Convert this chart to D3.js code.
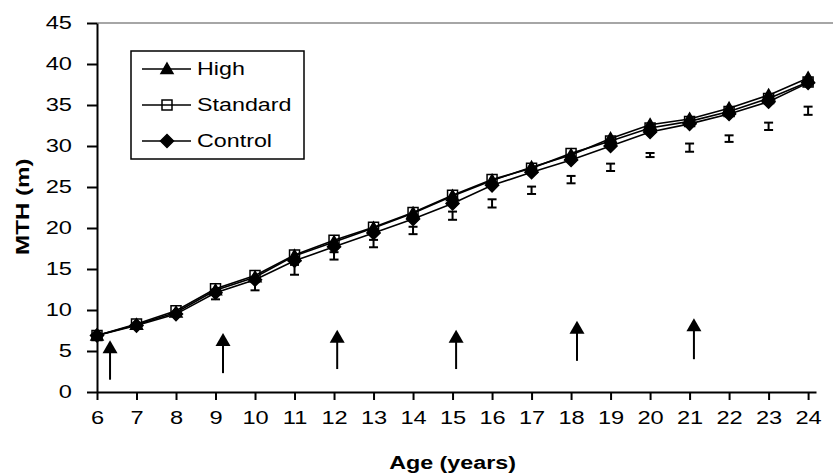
<!DOCTYPE html>
<html>
<head>
<meta charset="utf-8">
<script src="https://cdn.jsdelivr.net/npm/d3@7"></script>
<style>
  body { margin: 0; background: #fff; }
  text { font-family: Arial, "Liberation Sans", sans-serif; }
</style>
</head>
<body>
<script>
// data
var ages = [6, 7, 8, 9, 10, 11, 12, 13, 14, 15, 16, 17, 18, 19, 20, 21, 22, 23, 24];
var high     = [6.9, 8.2, 9.7, 12.4, 14.0, 16.6, 18.3, 20.0, 21.8, 23.9, 25.8, 27.4, 28.9, 30.9, 32.6, 33.3, 34.6, 36.2, 38.3];
var standard = [6.9, 8.3, 9.9, 12.6, 14.2, 16.7, 18.5, 20.1, 21.9, 24.0, 25.9, 27.3, 29.1, 30.6, 32.2, 33.0, 34.2, 35.8, 37.8];
var control  = [6.9, 8.1, 9.5, 12.1, 13.7, 16.0, 17.7, 19.4, 21.1, 23.0, 25.2, 26.8, 28.3, 30.0, 31.7, 32.7, 33.9, 35.4, 37.7];

// separate error bars (no line)
var errAges = [9, 10, 11, 12, 13, 14, 15, 16, 17, 18, 19, 20, 21, 22, 23, 24];
var errMid  = [11.9, 12.9, 14.9, 16.6, 18.1, 19.7, 21.5, 23.0, 24.6, 25.9, 27.4, 28.9, 29.8, 30.9, 32.4, 34.3];
var errHalf = [0.6, 0.5, 0.6, 0.45, 0.45, 0.45, 0.5, 0.5, 0.45, 0.45, 0.45, 0.25, 0.5, 0.4, 0.45, 0.5];

// arrows (age, bottom, tip)
var arrowAge  = [6.33, 9.19, 12.08, 15.09, 18.15, 21.11];
var arrowLow  = [1.5, 2.3, 2.8, 2.8, 3.8, 4.0];
var arrowHigh = [6.3, 7.2, 7.6, 7.6, 8.7, 9.0];

var yTicks = [0, 5, 10, 15, 20, 25, 30, 35, 40, 45];
var seriesNames = ['High', 'Standard', 'Control'];

var W = 834, H = 473;
var svg = d3.select('body').append('svg')
	.attr('width', W)
	.attr('height', H);

// the original text is wider than plain Arial, stretch it sideways
function stretch(sel, k) {
	sel.each(function() {
		var w = this.getComputedTextLength();
		d3.select(this).attr('textLength', w * k).attr('lengthAdjust', 'spacingAndGlyphs');
	});
}

var x = d3.scaleLinear().domain([6, 24.2]).range([97, 816]);
var y = d3.scaleLinear().domain([0, 45]).range([392, 23]);

// top border of plot area
svg.append('line')
	.attr('x1', x(6)).attr('x2', 833)
	.attr('y1', y(45)).attr('y2', y(45))
	.attr('stroke', '#888').attr('stroke-width', 1.5);

// axes
var xAxis = svg.append('g')
	.attr('transform', 'translate(0,' + y(0) + ')')
	.call(d3.axisBottom(x).tickValues(ages).tickFormat(d3.format('d')).tickSize(8).tickSizeOuter(0).tickPadding(12));
var yAxis = svg.append('g')
	.attr('transform', 'translate(' + x(6) + ',0)')
	.call(d3.axisLeft(y).tickValues(yTicks).tickSize(10).tickSizeOuter(0).tickPadding(15));

[xAxis, yAxis].forEach(function(a) {
	a.selectAll('path, line').attr('stroke', '#000').attr('stroke-width', 2);
	a.selectAll('text').attr('font-size', 17.5).attr('fill', '#000')
		.style('font-family', 'Arial, "Liberation Sans", sans-serif')
		.call(stretch, 1.35);
});

// axis titles
svg.append('text').text('Age (years)')
	.attr('x', (x(6) + x(24)) / 2).attr('y', 469)
	.attr('text-anchor', 'middle')
	.attr('font-size', 17.5).attr('font-weight', 'bold')
	.call(stretch, 1.33);
svg.append('text').text('MTH (m)')
	.attr('transform', 'translate(29,' + y(22.6) + ') rotate(-90)')
	.attr('text-anchor', 'middle')
	.attr('font-size', 17.5).attr('font-weight', 'bold')
	.call(stretch, 1.38);

// marker shapes
var markers = {
	High: { d: 'M0,-6L6,4.5L-6,4.5Z', fill: '#000' },
	Standard: { d: 'M-5,-5H5V5H-5Z', fill: 'none' },
	Control: { d: 'M0,-6.5L6.5,0L0,6.5L-6.5,0Z', fill: '#000' }
};

var line = d3.line()
	.x(function(d) { return x(d.age); })
	.y(function(d) { return y(d.v); });

// error bars
var err = errAges.map(function(a, i) { return { age: a, mid: errMid[i], h: errHalf[i] }; });
var eg = svg.append('g').attr('stroke', '#000').attr('stroke-width', 2);
err.forEach(function(d) {
	var cx = x(d.age);
	eg.append('line').attr('x1', cx).attr('x2', cx).attr('y1', y(d.mid - d.h)).attr('y2', y(d.mid + d.h));
	eg.append('line').attr('x1', cx - 4.5).attr('x2', cx + 4.5).attr('y1', y(d.mid - d.h)).attr('y2', y(d.mid - d.h));
	eg.append('line').attr('x1', cx - 4.5).attr('x2', cx + 4.5).attr('y1', y(d.mid + d.h)).attr('y2', y(d.mid + d.h));
});

// series
[high, standard, control].forEach(function(vals, si) {
	var name = seriesNames[si];
	var pts = ages.map(function(a, i) { return { age: a, v: vals[i] }; });
	svg.append('path').datum(pts)
		.attr('d', line)
		.attr('fill', 'none')
		.attr('stroke', '#000')
		.attr('stroke-width', 1.6);
	svg.selectAll('.m' + si).data(pts)
		.enter().append('path')
			.attr('class', 'm' + si)
			.attr('transform', function(d) { return 'translate(' + x(d.age) + ',' + y(d.v) + ')'; })
			.attr('d', markers[name].d)
			.attr('fill', markers[name].fill)
			.attr('stroke', '#000')
			.attr('stroke-width', 1.5);
});

// arrows
arrowAge.forEach(function(a, i) {
	var ax = x(a), yb = y(arrowLow[i]), yt = y(arrowHigh[i]);
	svg.append('line')
		.attr('x1', ax).attr('x2', ax)
		.attr('y1', yb).attr('y2', yt + 10)
		.attr('stroke', '#000').attr('stroke-width', 2);
	svg.append('path')
		.attr('d', 'M' + ax + ',' + yt + 'L' + (ax + 7.5) + ',' + (yt + 13) + 'L' + (ax - 7.5) + ',' + (yt + 13) + 'Z')
		.attr('fill', '#000');
});

// legend
var lg = svg.append('g');
lg.append('rect')
	.attr('x', 131).attr('y', 51).attr('width', 173).attr('height', 108)
	.attr('fill', '#fff').attr('stroke', '#000').attr('stroke-width', 1.5);
seriesNames.forEach(function(name, i) {
	var ly = 69 + i * 36;
	lg.append('line').attr('x1', 142).attr('x2', 191).attr('y1', ly).attr('y2', ly)
		.attr('stroke', '#000').attr('stroke-width', 1.5);
	lg.append('path')
		.attr('transform', 'translate(167,' + ly + ')')
		.attr('d', markers[name].d)
		.attr('fill', markers[name].fill)
		.attr('stroke', '#000').attr('stroke-width', 1.5);
	lg.append('text').text(name)
		.attr('x', 197).attr('y', ly).attr('dy', '0.35em')
		.attr('font-size', 17.5)
		.call(stretch, 1.33);
});
</script>
</body>
</html>
